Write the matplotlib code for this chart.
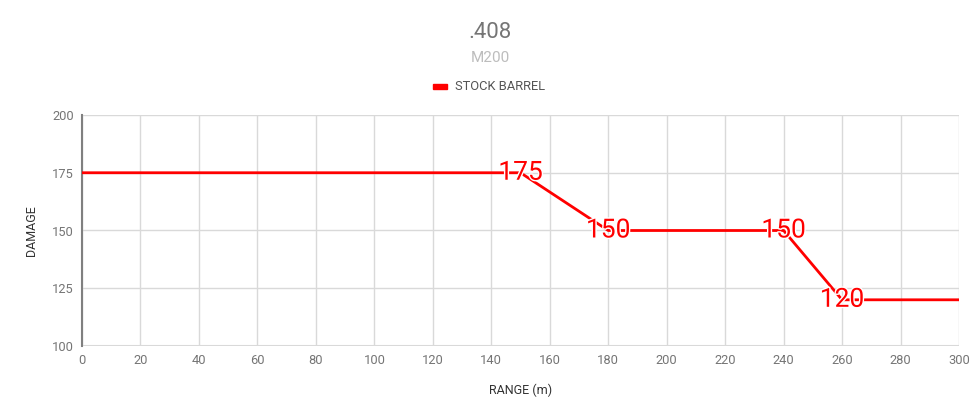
import matplotlib
matplotlib.use("Agg")
import matplotlib.pyplot as plt
import matplotlib.patheffects as pe

# Data
rangeM = [0, 150, 180, 240, 260, 300]
damage = [175, 175, 150, 150, 120, 120]
labelIdx = [1, 2, 3, 4]   # points that carry a value label
seriesName = "STOCK BARREL"
xTicks = list(range(0, 301, 20))
yTicks = [100, 125, 150, 175, 200]

plt.rcParams['font.family'] = ['Roboto', 'DejaVu Sans']

grey = '#757575'
gridCol = '#d9d9d9'

fig = plt.figure(figsize=(9.78, 4.15), dpi=100)
ax = fig.add_axes([82/978, (415-346)/415, (959-82)/978, (346-115)/415])

ax.plot(rangeM, damage, color='#ff0000', lw=2, zorder=3)
for i in labelIdx:
    ax.text(rangeM[i], damage[i], str(damage[i]), color='#ff0000', fontsize=19,
            ha='center', va='center', zorder=4,
            path_effects=[pe.withStroke(linewidth=2, foreground='white')])

ax.set_xlim(0, 300)
ax.set_ylim(100, 200)
ax.set_xticks(xTicks)
ax.set_yticks(yTicks)
ax.grid(True, color=gridCol, lw=1)
ax.set_axisbelow(True)
ax.tick_params(length=0, colors=grey, labelsize=9.3, pad=6)
for s in ['top', 'right', 'bottom']:
    ax.spines[s].set_visible(False)
ax.spines['left'].set_color('#808080')
ax.spines['left'].set_linewidth(1.5)
ax.axhline(100, color=gridCol, lw=1.5, zorder=1)

ax.set_xlabel('RANGE (m)', color='#333333', fontsize=9, labelpad=12)
ax.set_ylabel('DAMAGE', color='#333333', fontsize=9, labelpad=10)

# Titles and legend
fig.text(490/978, 1 - 32/415, '.408', ha='center', va='center', color=grey, fontsize=16)
fig.text(490/978, 1 - 58/415, 'M200', ha='center', va='center', color='#bdbdbd', fontsize=11)
fig.patches.append(plt.Rectangle((433/978, 1 - 89/415), 14/978, 5/415,
                                 transform=fig.transFigure, color='#ff0000'))
fig.text(455/978, 1 - 87/415, seriesName, ha='left', va='center', color='#555555', fontsize=9.3)

fig.savefig('out.png', dpi=100)
